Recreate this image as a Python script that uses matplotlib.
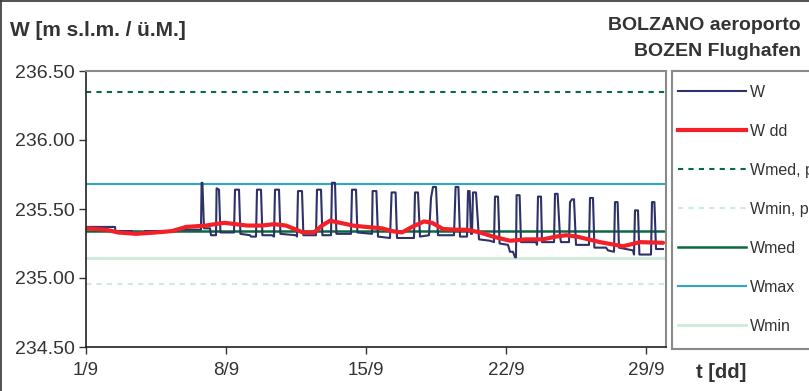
import matplotlib

matplotlib.use("Agg")
import matplotlib.pyplot as plt
from matplotlib.lines import Line2D

plt.rcParams["font.family"] = ["Liberation Sans", "DejaVu Sans"]

# W, level readings (day of September, m a.s.l.)
w_days = [
    1.0, 2.45, 2.47, 3.3, 3.35, 3.9, 3.95, 5.6, 5.62,
    6.75, 6.78, 6.82, 6.9, 7.2, 7.25,
    7.5, 7.53, 7.65, 7.72,
    8.4, 8.45, 8.65, 8.72, 9.2, 9.25,
    9.5, 9.55, 9.75, 9.82,
    10.3, 10.4, 10.45, 10.65, 10.72,
    11.5, 11.55, 11.6, 11.8, 11.87,
    12.5, 12.55, 12.75, 12.82,
    13.25, 13.3, 13.45, 13.52,
    14.25, 14.3, 14.5, 14.57,
    15.3, 15.33, 15.52, 15.6,
    16.2, 16.28, 16.48, 16.55,
    17.4, 17.45, 17.6, 17.7,
    18.15, 18.25, 18.35, 18.5, 18.6,
    19.4, 19.48, 19.62, 19.7,
    20.05, 20.1, 20.18, 20.25,
    20.3, 20.35, 20.5, 20.65,
    21.2, 21.4, 21.45, 21.6, 21.68,
    22.1, 22.2, 22.35, 22.45, 22.5, 22.53, 22.68, 22.75,
    23.5, 23.55, 23.6, 23.75, 23.8,
    24.4, 24.45, 24.58, 24.7, 24.75,
    25.15, 25.2, 25.3, 25.4, 25.5,
    26.15, 26.2, 26.35, 26.42,
    27.0, 27.1, 27.4, 27.45, 27.58, 27.65,
    28.35, 28.4, 28.45, 28.6, 28.67,
    29.25, 29.3, 29.42, 29.5, 29.85,
]
w_vals = [
    235.37, 235.37, 235.34, 235.34, 235.32, 235.32, 235.34, 235.34, 235.35,
    235.35, 235.69, 235.69, 235.36, 235.36, 235.31,
    235.31, 235.65, 235.64, 235.33,
    235.33, 235.64, 235.64, 235.32, 235.31, 235.30,
    235.30, 235.64, 235.64, 235.31,
    235.31, 235.30, 235.64, 235.64, 235.32,
    235.31, 235.30, 235.63, 235.63, 235.31,
    235.31, 235.64, 235.64, 235.31,
    235.31, 235.69, 235.69, 235.32,
    235.32, 235.64, 235.64, 235.33,
    235.32, 235.63, 235.63, 235.30,
    235.29, 235.62, 235.62, 235.29,
    235.29, 235.62, 235.62, 235.30,
    235.31, 235.58, 235.66, 235.66, 235.31,
    235.31, 235.66, 235.66, 235.30,
    235.30, 235.63, 235.63, 235.32,
    235.32, 235.62, 235.62, 235.28,
    235.27, 235.26, 235.59, 235.59, 235.25,
    235.24, 235.19, 235.19, 235.15, 235.15, 235.60, 235.60, 235.26,
    235.26, 235.24, 235.59, 235.59, 235.26,
    235.26, 235.61, 235.61, 235.30, 235.26,
    235.26, 235.55, 235.57, 235.57, 235.24,
    235.24, 235.58, 235.58, 235.22,
    235.22, 235.20, 235.19, 235.55, 235.55, 235.22,
    235.20, 235.17, 235.49, 235.49, 235.17,
    235.17, 235.55, 235.55, 235.21, 235.21,
]

# Wdd, daily mean (smoothed)
wdd_days = [
    1.0, 2.0, 2.6, 3.5, 4.5, 5.3, 6.0, 7.0, 7.9, 8.5, 9.05, 9.8, 10.4, 11.0, 11.85, 12.4, 12.8, 13.2,
    13.7, 14.35, 15.0, 15.8, 16.3, 16.8, 17.3, 17.9, 18.3, 18.85, 19.5, 20.05, 20.7, 21.35, 22.2,
    23.0, 23.85, 24.5, 25.0, 25.55, 26.7, 27.85, 28.7, 29.85,
]
wdd_vals = [
    235.36, 235.35, 235.33, 235.32, 235.33, 235.34, 235.37, 235.38, 235.40, 235.39, 235.38, 235.38, 235.39, 235.38, 235.33, 235.33, 235.38, 235.415,
    235.40, 235.38, 235.37, 235.36, 235.34, 235.33, 235.37, 235.41, 235.40, 235.355, 235.35, 235.35, 235.33, 235.30, 235.27,
    235.28, 235.28, 235.30, 235.31, 235.30, 235.26, 235.23, 235.26, 235.255,
]

# reference levels
w_med_p = 236.35
w_min_p = 234.96
w_med = 235.34
w_max = 235.68
w_min = 235.145

x_ticks = [1, 8, 15, 22, 29]
x_labels = ["1/9", "8/9", "15/9", "22/9", "29/9"]
y_ticks = [234.5, 235.0, 235.5, 236.0, 236.5]

W_PX, H_PX = 809, 391
fig = plt.figure(figsize=(W_PX / 100, H_PX / 100), dpi=100)
ax = fig.add_axes([86 / W_PX, 1 - 347 / H_PX, 580 / W_PX, 276 / H_PX])

c_w = "#2e3068"
c_wdd = "#f42028"
c_dgreen = "#0a6a3e"
c_lgreen = "#cdebd8"
c_blue = "#2ea6c6"

ax.axhline(w_med_p, color=c_dgreen, lw=1.5, ls=(0, (2.5, 2.5)))
ax.axhline(w_min_p, color=c_lgreen, lw=1.5, ls=(0, (2.5, 2.5)))
ax.axhline(w_min, color=c_lgreen, lw=2)
ax.axhline(w_max, color=c_blue, lw=1.5)
ax.axhline(w_med, color=c_dgreen, lw=1.8)
ax.plot(w_days, w_vals, color=c_w, lw=1.5)
ax.plot(wdd_days, wdd_vals, color=c_wdd, lw=3, solid_capstyle="round", solid_joinstyle="round")

ax.set_xlim(1, 30)
ax.set_ylim(234.5, 236.5)
ax.set_xticks(x_ticks)
ax.set_xticklabels(x_labels)
ax.set_yticks(y_ticks)
ax.set_yticklabels([f"{v:.2f}" for v in y_ticks])
ax.tick_params(axis="both", direction="out", length=5, width=1, color="#333333",
               labelcolor="#333333")
ax.tick_params(axis="x", pad=6, labelsize=13.5)
ax.tick_params(axis="y", pad=3, labelsize=14)
for s in ("left", "bottom"):
    ax.spines[s].set_color("#222222")
    ax.spines[s].set_linewidth(1.2)
for s in ("top", "right"):
    ax.spines[s].set_color("#8a8a8a")
    ax.spines[s].set_linewidth(1.5)

fig.text(10 / W_PX, 1 - 31 / H_PX, "W [m s.l.m. / ü.M.]", fontsize=15,
         fontweight="bold", color="#333333", va="center", ha="left")
fig.text(801 / W_PX, 1 - 25 / H_PX, "BOLZANO aeroporto", fontsize=14,
         fontweight="bold", color="#333333", va="center", ha="right")
fig.text(801 / W_PX, 1 - 51 / H_PX, "BOZEN Flughafen", fontsize=14,
         fontweight="bold", color="#333333", va="center", ha="right")
fig.text(696 / W_PX, 1 - 372 / H_PX, "t [dd]", fontsize=14.5,
         fontweight="bold", color="#333333", va="center", ha="left")

# legend box (runs past the right edge, as in the original)
lax = fig.add_axes([672 / W_PX, 1 - 349 / H_PX, 160 / W_PX, 278 / H_PX])
lax.set_xticks([])
lax.set_yticks([])
for s in lax.spines.values():
    s.set_color("#8a8a8a")
    s.set_linewidth(1.5)
handles = [
    Line2D([], [], color=c_w, lw=1.5),
    Line2D([], [], color=c_wdd, lw=3),
    Line2D([], [], color=c_dgreen, lw=1.5, ls=(0, (2.5, 2.5))),
    Line2D([], [], color=c_lgreen, lw=1.5, ls=(0, (2.5, 2.5))),
    Line2D([], [], color=c_dgreen, lw=1.8),
    Line2D([], [], color=c_blue, lw=1.5),
    Line2D([], [], color=c_lgreen, lw=2),
]
labels = ["W", "W dd", "Wmed, p", "Wmin, p", "Wmed", "Wmax", "Wmin"]
lax.legend(handles, labels, loc="upper left", bbox_to_anchor=(6 / 160, 1 - 14 / 278),
           frameon=False, borderpad=0, borderaxespad=0, fontsize=11.5,
           handlelength=4.25, handletextpad=0.25, labelspacing=1.5,
           labelcolor="#333333")

# outer chart border (left and top only visible)
fig.add_artist(Line2D([1 / W_PX, 1 / W_PX], [0, 1 - 1 / H_PX], color="#333333", lw=1.2))
fig.add_artist(Line2D([1 / W_PX, 1], [1 - 1 / H_PX, 1 - 1 / H_PX], color="#333333", lw=1.2))

fig.savefig("out.png", dpi=100)
